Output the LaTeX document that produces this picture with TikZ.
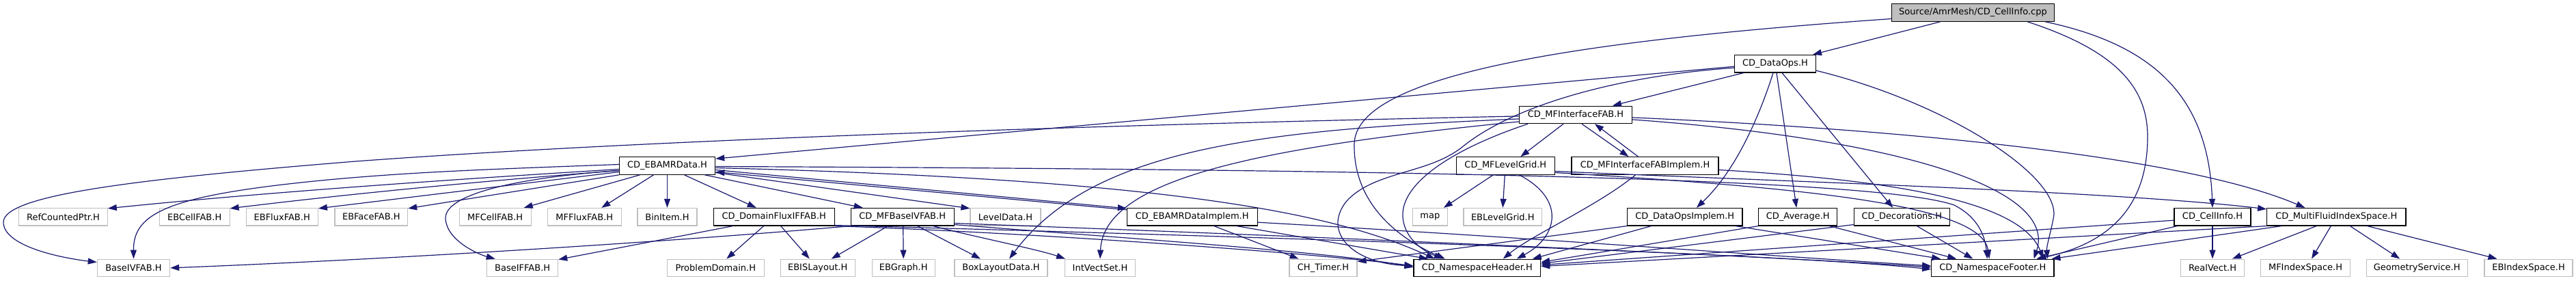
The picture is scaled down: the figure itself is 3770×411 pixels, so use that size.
\documentclass[tikz,border=0pt]{standalone}
\usepackage{fontspec}
\setmainfont{DejaVu Sans}
\usetikzlibrary{arrows.meta}
\definecolor{edgeblue}{HTML}{191970}
\definecolor{grey75}{HTML}{BFBFBF}
\tikzset{
  basebox/.style={rectangle, line width=1.1pt, inner sep=0pt, minimum height=25.6pt,
    font=\fontsize{13}{15}\selectfont, text=black},
  doc/.style={basebox, draw=black, fill=white},
  ext/.style={basebox, draw=grey75, fill=white},
  rootbox/.style={basebox, draw=black, fill=grey75},
  e/.style={draw=edgeblue, line width=1.2pt, -{Triangle[length=13pt,width=9pt]}}
}
\begin{document}
\begin{tikzpicture}[x=1pt,y=-1pt]
\useasboundingbox (0,0) rectangle (3770,411);
% row 0-3
\node[rootbox, minimum width=238.4pt] (root) at (2887.5,18.5) {Source/AmrMesh/CD\_CellInfo.cpp};
\node[doc, minimum width=118.6pt] (dataops) at (2598,93.2) {CD\_DataOps.H};
\node[doc, minimum width=164.6pt] (mfifab) at (2306,167.9) {CD\_MFInterfaceFAB.H};
\node[doc, minimum width=140.4pt] (ebamr) at (976.5,242.5) {CD\_EBAMRData.H};
\node[doc, minimum width=144pt] (mflg) at (2203.3,242.5) {CD\_MFLevelGrid.H};
\node[doc, minimum width=215pt] (mfifabimpl) at (2407.5,242.5) {CD\_MFInterfaceFABImplem.H};
% row 4
\node[ext, minimum width=129.6pt] (refc) at (92.5,317.2) {RefCountedPtr.H};
\node[ext, minimum width=102.7pt] (ebcell) at (284.7,317.2) {EBCellFAB.H};
\node[ext, minimum width=105.3pt] (ebflux) at (412.7,317.2) {EBFluxFAB.H};
\node[ext, minimum width=106.7pt] (ebface) at (543.3,317.2) {EBFaceFAB.H};
\node[ext, minimum width=105.3pt] (mfcell) at (724.7,317.2) {MFCellFAB.H};
\node[ext, minimum width=108pt] (mfflux) at (855.3,317.2) {MFFluxFAB.H};
\node[ext, minimum width=87pt] (binitem) at (976.5,317.2) {BinItem.H};
\node[doc, minimum width=177.3pt] (domflux) at (1132.7,317.2) {CD\_DomainFluxIFFAB.H};
\node[doc, minimum width=150.7pt] (mfbaseiv) at (1320.7,317.2) {CD\_MFBaseIVFAB.H};
\node[ext, minimum width=103pt] (leveldata) at (1471.5,317.2) {LevelData.H};
\node[doc, minimum width=190.7pt] (ebamrimpl) at (1744.7,317.2) {CD\_EBAMRDataImplem.H};
\node[ext, minimum width=51pt] (map) at (2092.8,317.2) {map};
\node[ext, minimum width=114.7pt] (eblg) at (2199.3,317.2) {EBLevelGrid.H};
\node[doc, minimum width=168.3pt] (dataopsimpl) at (2465.8,317.2) {CD\_DataOpsImplem.H};
\node[doc, minimum width=115pt] (average) at (2631.2,317.2) {CD\_Average.H};
\node[doc, minimum width=140pt] (decor) at (2783.3,317.2) {CD\_Decorations.H};
\node[doc, minimum width=112pt] (cellinfo) at (3238,317.2) {CD\_CellInfo.H};
\node[doc, minimum width=203.3pt] (mfis) at (3419.3,317.2) {CD\_MultiFluidIndexSpace.H};
% row 5
\node[ext, minimum width=106.4pt] (baseiv) at (195.5,391.9) {BaseIVFAB.H};
\node[ext, minimum width=104pt] (baseif) at (764.7,391.9) {BaseIFFAB.H};
\node[ext, minimum width=142pt] (probdom) at (1047.3,391.9) {ProblemDomain.H};
\node[ext, minimum width=109.3pt] (ebisl) at (1196.7,391.9) {EBISLayout.H};
\node[ext, minimum width=92.3pt] (ebgraph) at (1322.2,391.9) {EBGraph.H};
\node[ext, minimum width=136pt] (boxld) at (1465,391.9) {BoxLayoutData.H};
\node[ext, minimum width=102.6pt] (ivs) at (1610,391.9) {IntVectSet.H};
\node[ext, minimum width=99pt] (timer) at (1936.5,391.9) {CH\_Timer.H};
\node[doc, minimum width=185.7pt] (nsh) at (2161.8,391.9) {CD\_NamespaceHeader.H};
\node[doc, minimum width=179.3pt] (nsf) at (2916.3,391.9) {CD\_NamespaceFooter.H};
\node[ext, minimum width=93.4pt] (realvect) at (3238,391.9) {RealVect.H};
\node[ext, minimum width=130.6pt] (mfisp) at (3374,391.9) {MFIndexSpace.H};
\node[ext, minimum width=147.7pt] (geom) at (3537.2,391.9) {GeometryService.H};
\node[ext, minimum width=129pt] (ebis) at (3700.5,391.9) {EBIndexSpace.H};

% root
\draw[e] ([xshift=-48pt]root.south) -- ([xshift=55pt]dataops.north);
\draw[e] ([yshift=-9pt]root.west) .. controls (2300,60) and (1985,110) .. (1982,210) .. controls (1980,300) and (2050,350) .. ([xshift=-47pt]nsh.north);
\draw[e] ([xshift=-40pt]root.south east) .. controls (3100,75) and (3143,130) .. (3143,200) .. controls (3143,300) and (3090,355) .. ([xshift=-25pt]nsf.north east);
\draw[e] ([xshift=-14pt]root.south east) .. controls (3150,65) and (3232,140) .. (cellinfo.north);

% dataops
\draw[e] ([yshift=-4pt]dataops.west) -- ([yshift=-3pt]ebamr.north east);
\draw[e] ([xshift=-46pt]dataops.south) -- ([xshift=54pt]mfifab.north);
\draw[e] ([xshift=-3pt]dataops.south) .. controls (2575,170) and (2540,250) .. ([xshift=17pt]dataopsimpl.north);
\draw[e] ([xshift=2pt]dataops.south) -- ([xshift=-2pt]average.north);
\draw[e] ([xshift=10pt]dataops.south) -- ([xshift=-13pt]decor.north);
\draw[e] ([yshift=-10pt]dataops.east) .. controls (2850,150) and (3020,260) .. (3005,320) .. controls (3000,345) and (2995,360) .. ([xshift=-10pt]nsf.north east);
\draw[e] ([yshift=-6pt]dataops.west) .. controls (2380,110) and (2220,150) .. (2140,215) .. controls (2090,255) and (2010,250) .. (1970,295) .. controls (1935,340) and (1980,385) .. ([yshift=3pt]nsh.west);

% mfifab
\draw[e] ([yshift=-2pt]mfifab.west) .. controls (1500,185) and (900,208) .. (520,236) .. controls (200,262) and (5,285) .. (5,325) .. controls (5,358) and (80,376) .. ([yshift=-5pt]baseiv.north west);
\draw[e] ([yshift=-6pt]mfifab.west) .. controls (1850,190) and (1600,215) .. ([xshift=12pt]boxld.north);
\draw[e] ([yshift=-10pt]mfifab.west) .. controls (1850,215) and (1615,260) .. (ivs.north);
\draw[e] ([xshift=-70pt]mfifab.south) .. controls (2120,220) and (2050,270) .. (2053,317) .. controls (2055,350) and (2085,368) .. ([xshift=-50pt]nsh.north);
\draw[e] ([xshift=-18pt]mfifab.south) -- ([xshift=22pt]mflg.north);
\draw[e] ([xshift=9pt]mfifab.south) -- ([xshift=-24pt]mfifabimpl.north);
\draw[e] ([xshift=-10pt]mfifabimpl.north) -- ([xshift=28pt]mfifab.south);
\draw[e] ([yshift=-4pt]mfifab.east) .. controls (2800,190) and (3200,230) .. ([xshift=-46pt]mfis.north);
\draw[e] ([yshift=-7pt]mfifab.east) .. controls (2800,205) and (3010,280) .. ([xshift=-30pt]nsf.north east);

% mfifabimpl
\draw[e] ([xshift=-14pt]mfifabimpl.south) .. controls (2340,300) and (2240,345) .. ([xshift=38pt]nsh.north);
\draw[e] ([yshift=-6pt]mfifabimpl.east) .. controls (2800,265) and (2960,300) .. ([xshift=-16pt]nsf.north east);

% mflg
\draw[e] ([xshift=-18pt]mflg.south) -- ([xshift=20pt]map.north);
\draw[e] ([xshift=-1pt]mflg.south) -- (eblg.north);
\draw[e] ([xshift=20pt]mflg.south) .. controls (2290,290) and (2282,345) .. ([xshift=58pt]nsh.north);
\draw[e] ([yshift=-8pt]mflg.east) .. controls (2600,265) and (3100,280) .. ([yshift=-2pt]mfis.north west);
\draw[e] ([yshift=-10pt]mflg.east) .. controls (2650,275) and (2900,300) .. ([xshift=-5pt]nsf.north);

% ebamr
\draw[e] ([yshift=-5pt]ebamr.west) .. controls (700,260) and (400,280) .. ([yshift=-1pt]refc.north east);
\draw[e] ([yshift=-7pt]ebamr.west) .. controls (700,265) and (500,285) .. ([yshift=-1pt]ebcell.north east);
\draw[e] ([yshift=-9pt]ebamr.west) -- ([yshift=-1pt]ebflux.north east);
\draw[e] (ebamr.south west) -- ([yshift=-1pt]ebface.north east);
\draw[e] ([xshift=-40pt]ebamr.south) -- ([xshift=42pt]mfcell.north);
\draw[e] ([xshift=-20pt]ebamr.south) -- ([xshift=25pt]mfflux.north);
\draw[e] (ebamr.south) -- (binitem.north);
\draw[e] ([xshift=25pt]ebamr.south) -- ([xshift=-26pt]domflux.north);
\draw[e] ([xshift=55pt]ebamr.south) -- ([xshift=-58pt]mfbaseiv.north);
\draw[e] ([yshift=-10pt]ebamr.east) -- ([yshift=-1pt]leveldata.north west);
\draw[e] ([yshift=-6pt]ebamr.east) -- ([yshift=-1pt]ebamrimpl.north west);
\draw[e] ([yshift=-3pt]ebamrimpl.north west) -- ([yshift=-9pt]ebamr.east);
\draw[e] ([yshift=2pt]ebamr.west) .. controls (700,248) and (600,252) .. (480,263) .. controls (250,285) and (195,310) .. (baseiv.north);
\draw[e] ([yshift=-7pt]ebamr.west) .. controls (780,258) and (650,280) .. (652,320) .. controls (654,352) and (700,372) .. ([xshift=-40pt]baseif.north);
\draw[e] ([yshift=-3pt]ebamr.east) .. controls (1700,262) and (1950,310) .. ([xshift=-62pt]nsh.north);
\draw[e] ([yshift=-1pt]ebamr.east) .. controls (2100,248) and (2750,262) .. (2860,300) .. controls (2895,318) and (2905,345) .. ([xshift=-8pt]nsf.north);

% domflux
\draw[e] ([xshift=-15pt]domflux.south) -- ([xshift=16pt]probdom.north);
\draw[e] ([xshift=10pt]domflux.south) -- ([xshift=-12pt]ebisl.north);
\draw[e] ([xshift=-60pt]domflux.south) -- ([yshift=-1pt]baseif.north east);
\draw[e] (domflux.south east) .. controls (1500,340) and (1900,368) .. ([yshift=3pt]nsh.west);
\draw[e] ([yshift=1pt]domflux.south east) .. controls (1800,345) and (2600,370) .. ([yshift=-2pt]nsf.west);

% mfbaseiv
\draw[e] (mfbaseiv.south west) .. controls (1000,352) and (600,378) .. (baseiv.east);
\draw[e] ([xshift=-21pt]mfbaseiv.south) -- ([xshift=20pt]ebisl.north);
\draw[e] ([xshift=1pt]mfbaseiv.south) -- (ebgraph.north);
\draw[e] ([xshift=22pt]mfbaseiv.south) -- ([xshift=-30pt]boxld.north);
\draw[e] ([xshift=45pt]mfbaseiv.south) .. controls (1420,345) and (1520,365) .. ([xshift=-51pt]ivs.north);
\draw[e] ([yshift=2pt]mfbaseiv.south east) .. controls (1600,345) and (1950,368) .. ([yshift=1pt]nsh.west);
\draw[e] ([yshift=4pt]mfbaseiv.south east) .. controls (1900,345) and (2600,375) .. ([yshift=1pt]nsf.west);

% ebamrimpl
\draw[e] ([xshift=32pt]ebamrimpl.south) -- ([xshift=-36pt]timer.north);
\draw[e] ([xshift=65pt]ebamrimpl.south) -- ([xshift=-72pt]nsh.north);
\draw[e] ([yshift=-8pt]ebamrimpl.east) .. controls (2200,345) and (2600,375) .. ([yshift=3pt]nsf.west);

% dataopsimpl
\draw[e] (dataopsimpl.south west) -- ([yshift=-4pt]timer.north east);
\draw[e] ([xshift=-49pt]dataopsimpl.south) -- ([xshift=81pt]nsh.north);
\draw[e] ([xshift=74pt]dataopsimpl.south) -- ([xshift=14pt]nsf.north west);

% average
\draw[e] (average.south west) -- ([yshift=-5pt]nsh.north east);
\draw[e] ([xshift=46pt]average.south) -- ([xshift=-53pt]nsf.north);

% decorations
\draw[e] ([yshift=2pt]decor.south west) -- ([yshift=-7pt]nsh.north east);
\draw[e] ([xshift=22pt]decor.south) -- ([xshift=-29pt]nsf.north);

% cellinfo
\draw[e] (cellinfo.south) -- (realvect.north);
\draw[e] ([xshift=5pt]cellinfo.south west) -- ([xshift=-26pt]nsf.north east);
\draw[e] ([yshift=-5pt]cellinfo.west) -- ([yshift=-9pt]nsh.north east);

% mfis
\draw[e] ([xshift=-29pt]mfis.south) -- ([xshift=29pt]realvect.north);
\draw[e] ([xshift=-8pt]mfis.south) -- ([xshift=9pt]mfisp.north);
\draw[e] ([xshift=20pt]mfis.south) -- ([xshift=-25pt]geom.north);
\draw[e] ([xshift=45pt]mfis.south) -- ([xshift=-46pt]ebis.north);
\draw[e] ([xshift=-80pt]mfis.south) -- ([xshift=-4pt]nsf.north east);
\draw[e] (mfis.south west) -- ([yshift=-11pt]nsh.north east);
\end{tikzpicture}
\end{document}
